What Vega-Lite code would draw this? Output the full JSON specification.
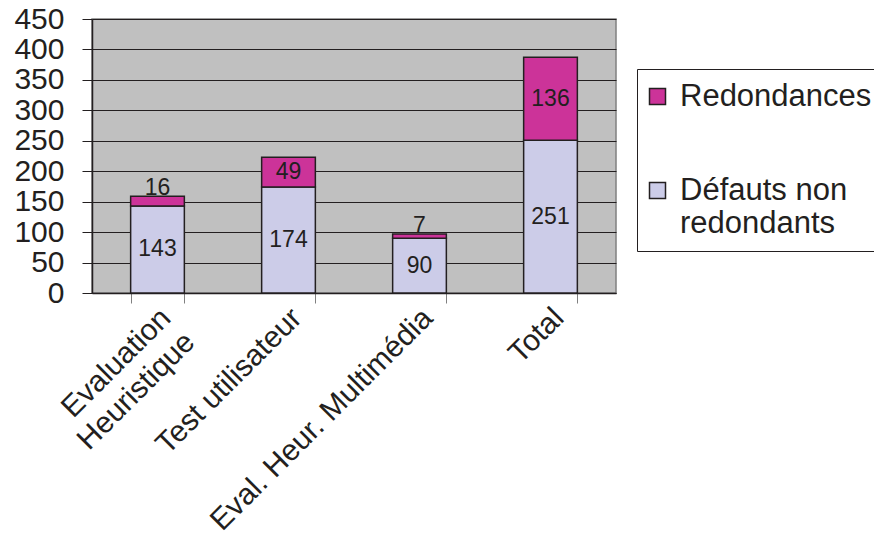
{
  "$schema": "https://vega.github.io/schema/vega-lite/v6.json",
  "width": 524,
  "height": 274,
  "autosize": {"type": "none"},
  "padding": {"left": 92, "top": 19, "right": 258, "bottom": 242},
  "background": "white",
  "config": {
    "font": "Liberation Sans",
    "view": {"fill": "#C0C0C0", "stroke": "#808080", "strokeWidth": 1.5},
    "axis": {"labelFont": "Liberation Sans", "labelColor": "#231F20", "tickColor": "#231F20", "domainColor": "#231F20"},
    "axisY": {
      "labelFontSize": 30,
      "labelPadding": 18,
      "labelOverlap": false,
      "labelFlush": false,
      "tickSize": 10,
      "gridColor": "#231F20",
      "gridWidth": 1,
      "domainWidth": 1.5
    }
  },
  "data": {
    "values": [
      {"cat": "Evaluation Heuristique", "serie": "Défauts non redondants", "count": 143},
      {"cat": "Evaluation Heuristique", "serie": "Redondances", "count": 16},
      {"cat": "Test utilisateur", "serie": "Défauts non redondants", "count": 174},
      {"cat": "Test utilisateur", "serie": "Redondances", "count": 49},
      {"cat": "Eval. Heur. Multimédia", "serie": "Défauts non redondants", "count": 90},
      {"cat": "Eval. Heur. Multimédia", "serie": "Redondances", "count": 7},
      {"cat": "Total", "serie": "Défauts non redondants", "count": 251},
      {"cat": "Total", "serie": "Redondances", "count": 136}
    ]
  },
  "transform": [
    {"stack": "count", "groupby": ["cat"], "sort": [{"field": "serie", "order": "ascending"}], "as": ["y0", "y1"]}
  ],
  "encoding": {
    "x": {
      "field": "cat",
      "type": "nominal",
      "sort": null,
      "title": null,
      "scale": {"paddingInner": 0.59, "paddingOuter": 0.295},
      "axis": {
        "labelAngle": -45,
        "labelAlign": "right",
        "labelBaseline": "middle",
        "labelFontSize": 30,
        "labelPadding": 10,
        "labelOffset": 8,
        "labelLineHeight": 34,
        "labelLimit": 400,
        "labelOverlap": false,
        "tickBand": "extent",
        "tickSize": 10,
        "tickColor": "#808080",
        "domainColor": "#231F20",
        "domainWidth": 1.5,
        "labelExpr": "datum.label == 'Evaluation Heuristique' ? ['Evaluation', 'Heuristique'] : datum.label"
      }
    }
  },
  "layer": [
    {
      "mark": {"type": "bar", "stroke": "#231F20", "strokeWidth": 1.5},
      "encoding": {
        "y": {
          "field": "y0",
          "type": "quantitative",
          "scale": {"domain": [0, 450], "nice": false},
          "title": null,
          "axis": {"values": [0, 50, 100, 150, 200, 250, 300, 350, 400, 450]}
        },
        "y2": {"field": "y1"},
        "color": {
          "field": "serie",
          "type": "nominal",
          "scale": {"domain": ["Redondances", "Défauts non redondants"], "range": ["#CC3399", "#CCCCE8"]},
          "legend": {
            "title": null,
            "orient": "none",
            "legendX": 545,
            "legendY": 50,
            "strokeColor": "#231F20",
            "fillColor": "white",
            "padding": 12,
            "symbolOffset": -7,
            "symbolType": "square",
            "symbolSize": 256,
            "symbolStrokeColor": "#231F20",
            "symbolStrokeWidth": 1.5,
            "symbolOpacity": 1,
            "labelFontSize": 31,
            "labelFont": "Liberation Sans",
            "labelColor": "#231F20",
            "labelOffset": 7,
            "labelLimit": 400,
            "labelLineHeight": 35,
            "rowPadding": 62,
            "labelExpr": "datum.label == 'Défauts non redondants' ? ['Défauts non', 'redondants'] : datum.label"
          }
        },
        "order": {"field": "serie", "sort": "ascending"}
      }
    },
    {
      "transform": [
        {"filter": "datum.count >= 20"},
        {"fold": ["y0", "y1"], "as": ["edge", "pos"]}
      ],
      "mark": {"type": "text", "fontSize": 23, "color": "#231F20", "baseline": "middle"},
      "encoding": {
        "y": {
          "aggregate": "mean",
          "field": "pos",
          "type": "quantitative",
          "title": null,
          "axis": {"values": [0, 50, 100, 150, 200, 250, 300, 350, 400, 450]}
        },
        "detail": {"field": "serie"},
        "text": {"aggregate": "max", "field": "count", "type": "quantitative"}
      }
    },
    {
      "transform": [{"filter": "datum.count < 20"}],
      "mark": {"type": "text", "fontSize": 23, "color": "#231F20", "baseline": "alphabetic", "dy": -1},
      "encoding": {
        "y": {
          "field": "y1",
          "type": "quantitative",
          "title": null,
          "axis": {"values": [0, 50, 100, 150, 200, 250, 300, 350, 400, 450]}
        },
        "text": {"field": "count", "type": "quantitative"}
      }
    }
  ]
}
